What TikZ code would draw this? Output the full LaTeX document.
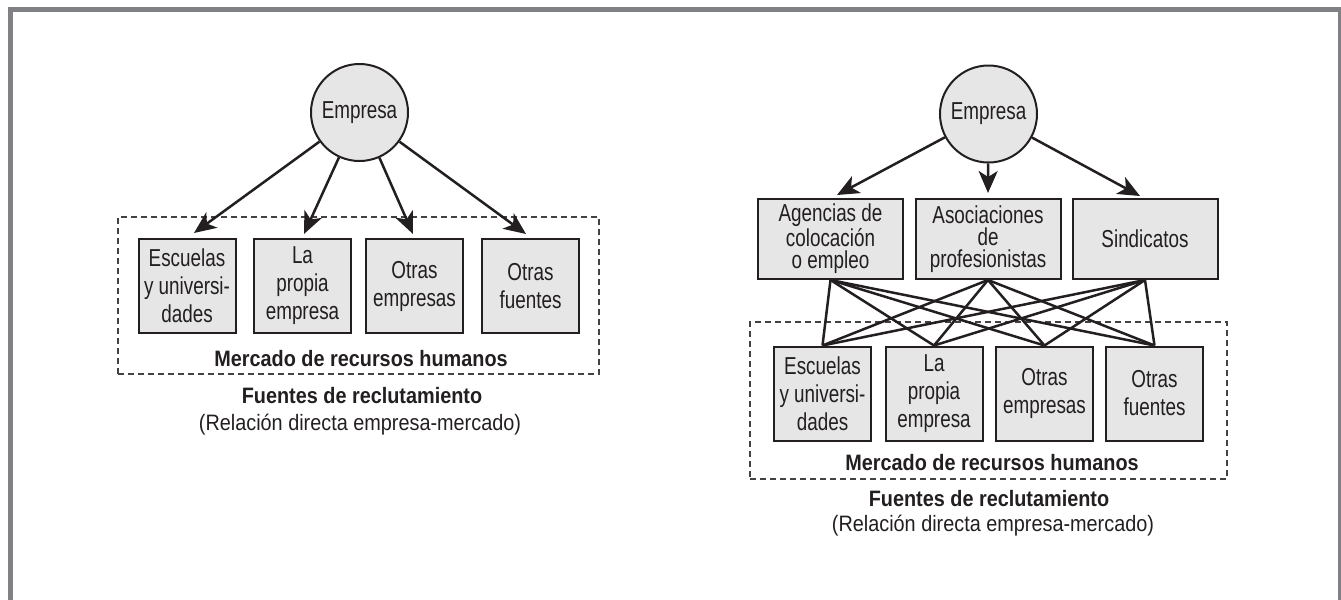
\documentclass[tikz,border=0pt]{standalone}
\usepackage{fontspec}
\setmainfont{Liberation Sans}
\newfontfamily\boxf{Liberation Sans}[FakeStretch=0.77]
\newfontfamily\capf{Liberation Sans}[FakeStretch=0.89]
\usetikzlibrary{arrows.meta,calc}
\definecolor{framegray}{HTML}{808185}
\definecolor{boxfill}{HTML}{E6E6E6}
\definecolor{ink}{HTML}{231F20}
\begin{document}
\begin{tikzpicture}[x=0.5pt,y=-0.5pt,
  srcbox/.style={draw=ink, fill=boxfill, line width=1pt, minimum width=48.5pt, minimum height=47pt, inner sep=0pt, align=center, font=\boxf\fontsize{12.25}{14}\selectfont, text=ink},
  agbox/.style={srcbox, minimum width=72.5pt, minimum height=40pt, font=\boxf\fontsize{12.25}{11}\selectfont},
  firm/.style={circle, draw=ink, fill=boxfill, line width=1pt, minimum size=48.5pt, inner sep=0pt, font=\boxf\fontsize{12.25}{14}\selectfont, text=ink},
  arr/.style={draw=ink, line width=1.25pt, -{Stealth[length=11pt,width=9.5pt,inset=3pt]}},
  link/.style={draw=ink, line width=1.25pt},
  market/.style={draw=ink!85, line width=0.55pt, dash pattern=on 3pt off 2pt, inner sep=0pt},
  boldcap/.style={font=\capf\bfseries\fontsize{11.15}{13}\selectfont, text=ink, inner sep=0pt, anchor=base},
  plaincap/.style={font=\capf\fontsize{11.15}{13}\selectfont, text=ink, inner sep=0pt, anchor=base},
]
\useasboundingbox (0,0) rectangle (1341,600);
\draw[framegray, line width=2.5pt] (10.5,600) -- (10.5,9) -- (1340,9) -- (1340,600);

% ---------- left diagram ----------
\node[market, minimum width=240.5pt, minimum height=78.5pt] (m1) at (358.5,295.5) {};
\node[firm] (e1) at (359.5,112.5) {Empresa};
\node[srcbox] (s1) at (187,286) {Escuelas\\y universi-\\dades};
\node[srcbox] (s2) at (302.5,286) {La\\propia\\empresa};
\node[srcbox] (s3) at (414.5,286) {Otras\\empresas};
\node[srcbox] (s4) at (530.5,286) {Otras\\fuentes};
\node[boldcap] (mk1) at (361,366) {Mercado de recursos humanos};
\node[boldcap] (fu1) at (362,403) {Fuentes de reclutamiento};
\node[plaincap] (re1) at (360,430) {(Relación directa empresa-mercado)};
\draw[arr] (e1) -- ($(s1.north)+(7,-5)$);
\draw[arr] (e1) -- ($(s2.north)+(1.5,-4)$);
\draw[arr] (e1) -- ($(s3.north)+(-1.5,-4)$);
\draw[arr] (e1) -- ($(s4.north)+(-4.5,-4)$);

% ---------- right diagram ----------
\node[market, minimum width=238.5pt, minimum height=78.5pt] (m2) at (988.5,400.5) {};
\node[firm] (e2) at (988.5,114) {Empresa};
\node[agbox] (a1) at (830.5,239) {Agencias de\\colocación\\o empleo};
\node[agbox] (a2) at (988,239) {Asociaciones\\de\\profesionistas};
\node[agbox] (a3) at (1145,239) {Sindicatos};
\node[srcbox] (b1) at (822.5,393.5) {Escuelas\\y universi-\\dades};
\node[srcbox] (b2) at (934,393.5) {La\\propia\\empresa};
\node[srcbox] (b3) at (1044.5,393.5) {Otras\\empresas};
\node[srcbox] (b4) at (1154.5,393.5) {Otras\\fuentes};
\node[boldcap] (mk2) at (992,470) {Mercado de recursos humanos};
\node[boldcap] (fu2) at (989,506) {Fuentes de reclutamiento};
\node[plaincap] (re2) at (993,531) {(Relación directa empresa-mercado)};
\draw[arr] (e2) -- ($(a1.north)+(6.5,-3)$);
\draw[arr] (e2) -- ($(a2.north)+(0,-5)$);
\draw[arr] (e2) -- ($(a3.north)+(-5,-2)$);
\foreach \t in {a1,a2,a3}
  \foreach \b in {b1,b2,b3,b4}
    \draw[link] (\t.south) -- (\b.north);
\end{tikzpicture}
\end{document}
